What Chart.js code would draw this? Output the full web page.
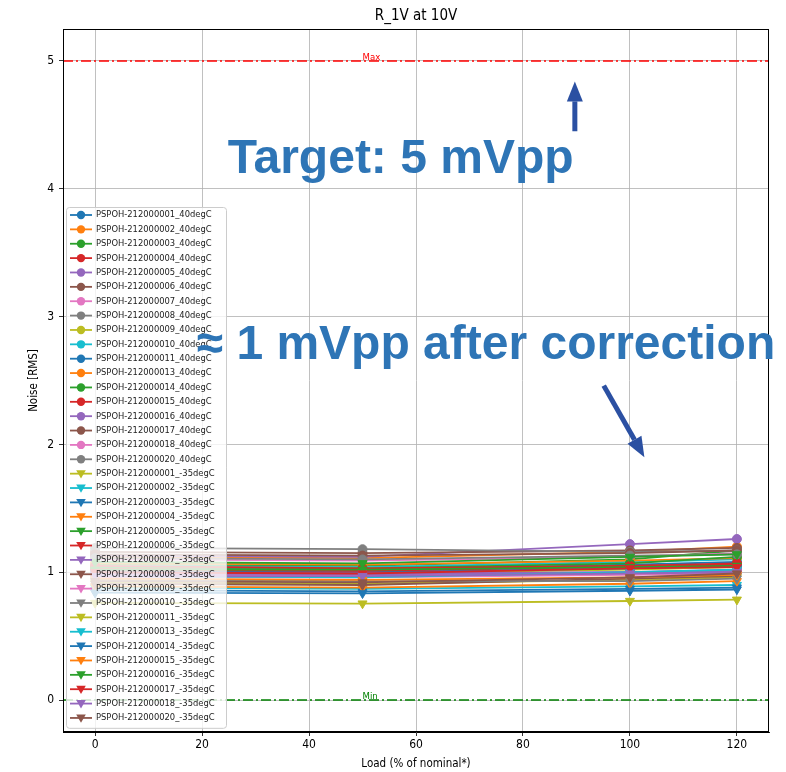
<!DOCTYPE html>
<html>
<head>
<meta charset="utf-8">
<script src="https://cdn.jsdelivr.net/npm/chart.js@4.4.1/dist/chart.umd.min.js"></script>
<style>
  body { margin: 0; background: #fff; }
  canvas { display: block; }
</style>
</head>
<body>
<canvas id="chart" width="786" height="772"></canvas>
<script>
// data
const loads = [0, 50, 100, 120];
const boards = ["001", "002", "003", "004", "005", "006", "007", "008", "009",
                "010", "011", "013", "014", "015", "016", "017", "018", "020"];
// noise at 40degC, one row per board, values at loads 0/50/100/120
const noise40 = [
  [1.03, 1.02, 1.06, 1.08],
  [1.12, 1.11, 1.16, 1.20],
  [1.06, 1.05, 1.10, 1.17],
  [1.03, 1.01, 1.04, 1.06],
  [1.13, 1.12, 1.22, 1.26],
  [1.16, 1.15, 1.17, 1.19],
  [1.10, 1.09, 1.12, 1.15],
  [1.19, 1.18, 1.16, 1.17],
  [1.00, 0.99, 1.02, 1.04],
  [1.05, 1.04, 1.08, 1.10],
  [1.01, 1.00, 1.03, 1.05],
  [1.07, 1.06, 1.09, 1.11],
  [1.04, 1.03, 1.07, 1.12],
  [1.05, 1.03, 1.05, 1.07],
  [0.99, 0.98, 1.00, 1.02],
  [1.14, 1.13, 1.15, 1.17],
  [0.98, 0.97, 0.99, 1.01],
  [1.11, 1.10, 1.13, 1.14]
];
// noise at -35degC
const noiseMinus35 = [
  [0.92, 0.91, 0.94, 0.96],
  [0.88, 0.87, 0.89, 0.90],
  [0.86, 0.85, 0.87, 0.88],
  [0.89, 0.88, 0.91, 0.93],
  [1.08, 1.07, 1.12, 1.14],
  [1.02, 1.01, 1.05, 1.06],
  [0.99, 0.99, 1.00, 1.01],
  [0.91, 0.90, 0.95, 0.97],
  [0.96, 0.96, 0.98, 0.99],
  [0.94, 0.93, 0.93, 0.95],
  [0.76, 0.755, 0.775, 0.785],
  [0.97, 0.96, 1.00, 1.02],
  [0.84, 0.835, 0.855, 0.865],
  [0.95, 0.94, 0.96, 0.98],
  [1.02, 1.02, 1.04, 1.05],
  [1.00, 0.99, 1.03, 1.04],
  [0.97, 0.97, 0.99, 1.00],
  [0.93, 0.92, 0.96, 0.99]
];
const xTicks = [0, 20, 40, 60, 80, 100, 120];
const yTicks = [0, 1, 2, 3, 4, 5];
const maxLimit = 5;
const minLimit = 0;

const palette = ["#1f77b4", "#ff7f0e", "#2ca02c", "#d62728", "#9467bd",
                 "#8c564b", "#e377c2", "#7f7f7f", "#bcbd22", "#17becf"];
const FONT = '"DejaVu Sans Condensed", "DejaVu Sans", sans-serif';

const series = [];
boards.forEach((b, i) => series.push({ label: "PSPOH-212" + "000" + b + "_40degC", values: noise40[i], marker: "circle" }));
boards.forEach((b, i) => series.push({ label: "PSPOH-212" + "000" + b + "_-35degC", values: noiseMinus35[i], marker: "down" }));

const datasets = series.map((s, i) => {
  const color = palette[i % palette.length];
  return {
    label: s.label,
    data: loads.map((x, k) => ({ x: x, y: s.values[k] })),
    borderColor: color,
    backgroundColor: color,
    borderWidth: 1.8,
    pointStyle: s.marker === "circle" ? "circle" : "triangle",
    rotation: s.marker === "circle" ? 0 : 180,
    pointRadius: s.marker === "circle" ? 4.5 : 5.2,
    pointBorderWidth: 1,
    order: series.length - i
  };
});

function drawMarker(ctx, kind, x, y, color) {
  ctx.fillStyle = color;
  ctx.beginPath();
  if (kind === "circle") {
    ctx.arc(x, y, 4.2, 0, Math.PI * 2);
  } else {
    ctx.moveTo(x - 4.8, y - 3.5);
    ctx.lineTo(x + 4.8, y - 3.5);
    ctx.lineTo(x, y + 4.8);
    ctx.closePath();
  }
  ctx.fill();
}

function arrow(ctx, x1, y1, x2, y2) {
  const ang = Math.atan2(y2 - y1, x2 - x1);
  const head = 20, half = 8;
  const bx = x2 - head * Math.cos(ang), by = y2 - head * Math.sin(ang);
  ctx.strokeStyle = "#2b50a2";
  ctx.fillStyle = "#2b50a2";
  ctx.lineWidth = 5;
  ctx.beginPath();
  ctx.moveTo(x1, y1);
  ctx.lineTo(bx, by);
  ctx.stroke();
  ctx.beginPath();
  ctx.moveTo(x2, y2);
  ctx.lineTo(bx + half * Math.sin(ang), by - half * Math.cos(ang));
  ctx.lineTo(bx - half * Math.sin(ang), by + half * Math.cos(ang));
  ctx.closePath();
  ctx.fill();
}

const extras = {
  id: "extras",
  beforeDatasetsDraw(chart) {
    const { ctx, chartArea: a, scales: { x, y } } = chart;
    ctx.save();
    ctx.lineWidth = 1.6;
    ctx.setLineDash([10, 3, 2, 3]);
    [[maxLimit, "#ff0000", "Max"], [minLimit, "#008000", "Min"]].forEach(([v, c, t]) => {
      const py = y.getPixelForValue(v);
      ctx.strokeStyle = c;
      ctx.beginPath();
      ctx.moveTo(a.left, py);
      ctx.lineTo(a.right, py);
      ctx.stroke();
      ctx.fillStyle = c;
      ctx.font = "9.5px " + FONT;
      ctx.textBaseline = "bottom";
      ctx.fillText(t, x.getPixelForValue(50), py + 1);
    });
    ctx.restore();
  },
  afterDatasetsDraw(chart) {
    const { ctx, chartArea: a, scales: { x, y } } = chart;
    ctx.save();
    // frame
    ctx.strokeStyle = "#000";
    ctx.lineWidth = 1;
    ctx.strokeRect(a.left + 0.5, a.top + 0.5, a.right - a.left - 1, a.bottom - a.top - 1);
    // title
    ctx.fillStyle = "#000";
    ctx.font = "15px " + FONT;
    ctx.textAlign = "center";
    ctx.textBaseline = "middle";
    ctx.fillText("R_1V at 10V", (a.left + a.right) / 2, 16);

    // legend
    const row = 14.37;
    const lx = a.left + 3, top = a.top + 178, w = 160, h = row * series.length + 3.5;
    ctx.fillStyle = "rgba(255,255,255,0.8)";
    ctx.strokeStyle = "#cccccc";
    ctx.lineWidth = 1;
    ctx.beginPath();
    ctx.roundRect(lx + 0.5, top + 0.5, w, h, 3);
    ctx.fill();
    ctx.stroke();
    ctx.font = "9.3px " + FONT;
    ctx.textAlign = "left";
    ctx.textBaseline = "middle";
    series.forEach((s, i) => {
      const cy = top + 8 + i * row;
      const color = palette[i % palette.length];
      ctx.strokeStyle = color;
      ctx.lineWidth = 1.8;
      ctx.beginPath();
      ctx.moveTo(lx + 4, cy);
      ctx.lineTo(lx + 26, cy);
      ctx.stroke();
      drawMarker(ctx, s.marker, lx + 15, cy, color);
      ctx.fillStyle = "#222";
      ctx.fillText(s.label, lx + 30, cy);
    });

    // slide annotations
    ctx.fillStyle = "#2e75b6";
    ctx.font = "bold 48px 'Liberation Sans', Arial, sans-serif";
    ctx.textAlign = "left";
    ctx.textBaseline = "alphabetic";
    ctx.fillText("Target: 5 mVpp", x.getPixelForValue(24.8), y.getPixelForValue(4.12));
    ctx.fillText("\u2248 1 mVpp after correction", x.getPixelForValue(19), y.getPixelForValue(2.67));
    arrow(ctx, x.getPixelForValue(89.7), y.getPixelForValue(4.45), x.getPixelForValue(89.7), y.getPixelForValue(4.84));
    arrow(ctx, x.getPixelForValue(95.1), y.getPixelForValue(2.46), x.getPixelForValue(102.7), y.getPixelForValue(1.9));
    ctx.restore();
  }
};

new Chart(document.getElementById("chart"), {
  type: "line",
  data: { datasets: datasets },
  options: {
    responsive: false,
    animation: false,
    devicePixelRatio: 1,
    layout: { padding: { top: 29, right: 17, left: 0, bottom: 0 } },
    plugins: { legend: { display: false }, tooltip: { enabled: false }, title: { display: false } },
    scales: {
      x: {
        type: "linear",
        min: -6,
        max: 126,
        afterBuildTicks: s => { s.ticks = xTicks.map(v => ({ value: v })); },
        afterFit: s => { s.height = 40; },
        ticks: { color: "#000", font: { family: FONT, size: 12 }, padding: 2, maxRotation: 0 },
        grid: { color: "#b0b0b0", lineWidth: 0.8, tickColor: "#000", tickLength: 4 },
        border: { color: "#000", width: 1 },
        title: { display: true, text: "Load (% of nominal*)", color: "#000", font: { family: FONT, size: 11.5 }, padding: { top: 0, bottom: 1 } }
      },
      y: {
        type: "linear",
        min: -0.25,
        max: 5.25,
        afterBuildTicks: s => { s.ticks = yTicks.map(v => ({ value: v })); },
        afterFit: s => { s.width = 63; },
        ticks: { color: "#000", font: { family: FONT, size: 12 }, padding: 5 },
        grid: { color: "#b0b0b0", lineWidth: 0.8, tickColor: "#000", tickLength: 4 },
        border: { color: "#000", width: 1 },
        title: { display: true, text: "Noise [RMS]", color: "#000", font: { family: FONT, size: 11.5 }, padding: { top: 27, bottom: 0 } }
      }
    }
  },
  plugins: [extras]
});
</script>
</body>
</html>
